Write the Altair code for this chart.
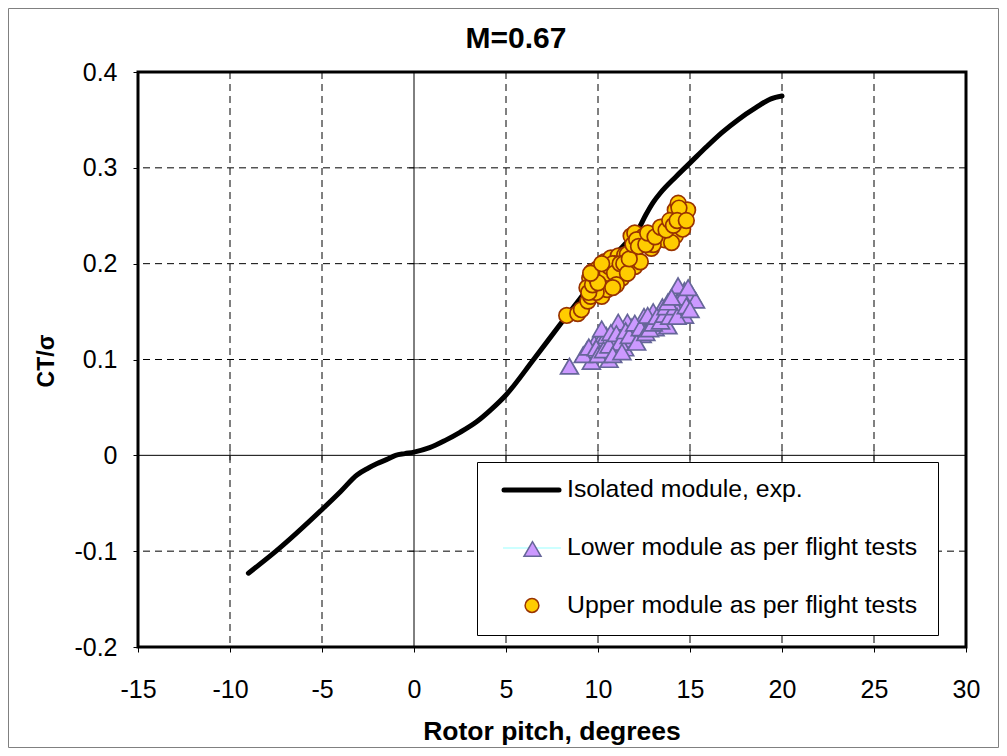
import altair as alt
import pandas as pd

# ---------------- data ----------------
curve_pitch = [-9, -7.5, -5, -4, -3.1, -2.5, -2, -1.5, -1, -0.5, 0, 0.85, 1.7, 2.5, 3.4,
               4.2, 5, 6.5, 8, 9.25, 10.4, 11.4, 12.2, 12.6, 13.0, 13.4, 14.25, 15.1,
               15.9, 16.75, 17.6, 18.6, 19.4, 20]
curve_ct = [-0.123, -0.1, -0.0565, -0.038, -0.0205, -0.0135, -0.0086, -0.0045, 0.0,
            0.0018, 0.0034, 0.008, 0.0156, 0.024, 0.035, 0.048, 0.063, 0.1, 0.138, 0.169,
            0.199, 0.219, 0.236, 0.251, 0.264, 0.274, 0.291, 0.307, 0.322, 0.337, 0.350,
            0.363, 0.372, 0.375]

lower_pitch = [8.45, 9.64, 10.6, 9.4, 9.8, 10.2, 10.45, 10.9, 11.3, 11.45, 11.9, 12.2,
               11.8, 12.5, 12.4, 12.9, 13.1, 13.3, 13.5, 13.6, 14.0, 14.1, 14.45, 14.7,
               14.35, 15.1, 15.3, 14.7, 14.5, 13.8, 12.5, 11.6, 11.1, 10.2, 13.0, 13.9,
               9.2, 9.5, 9.9, 10.0, 10.3, 10.6, 10.7, 11.0, 11.2, 11.5, 11.7, 12.0, 12.1,
               12.3, 12.6, 12.7, 12.8, 13.0, 13.2, 13.4, 13.6, 13.7, 13.9, 14.2, 14.3,
               14.6, 14.8, 14.9, 15.0, 13.8, 14.0, 10.8, 11.3]
lower_ct = [0.093, 0.098, 0.100, 0.110, 0.117, 0.122, 0.125, 0.119, 0.129, 0.112, 0.121,
            0.129, 0.134, 0.136, 0.126, 0.141, 0.133, 0.146, 0.155, 0.138, 0.150, 0.160,
            0.165, 0.172, 0.177, 0.168, 0.162, 0.146, 0.155, 0.135, 0.145, 0.139, 0.139,
            0.132, 0.150, 0.160,
            0.105, 0.113, 0.112, 0.105, 0.110, 0.115, 0.128, 0.127, 0.118, 0.130, 0.125,
            0.138, 0.118, 0.133, 0.128, 0.146, 0.132, 0.138, 0.145, 0.140, 0.147, 0.155,
            0.145, 0.155, 0.145, 0.165, 0.156, 0.175, 0.152, 0.160, 0.165, 0.105, 0.108]

upper_pitch = [8.3, 8.9, 9.1, 9.45, 9.6, 9.55, 9.7, 9.8, 10.0, 10.1, 10.2, 10.36, 10.5,
               10.7, 10.7, 11.1, 11.1, 11.3, 11.45, 11.5, 11.8, 12.0, 12.0, 12.0, 12.3,
               12.3, 12.5, 12.9, 12.9, 13.3, 13.6, 13.8, 14.2, 14.2, 14.36, 14.5, 14.6,
               14.87, 10.4, 10.9, 11.6, 9.9, 13.0, 14.0,
               9.4, 9.5, 9.7, 9.9, 10.1, 10.3, 10.5, 10.6, 10.8, 10.9, 11.2, 11.4, 11.6,
               11.7, 11.9, 12.1, 12.2, 12.6, 12.7, 13.1, 13.4, 13.7, 13.9, 14.1, 14.4,
               14.3, 14.8, 10.0, 9.6, 10.2, 11.0, 10.8]
upper_ct = [0.146, 0.148, 0.152, 0.161, 0.166, 0.185, 0.192, 0.180, 0.195, 0.176, 0.166,
            0.202, 0.173, 0.183, 0.206, 0.194, 0.208, 0.185, 0.209, 0.195, 0.229, 0.232,
            0.213, 0.197, 0.220, 0.202, 0.229, 0.225, 0.216, 0.232, 0.225, 0.241, 0.256,
            0.229, 0.263, 0.249, 0.236, 0.256, 0.188, 0.200, 0.210, 0.170, 0.220, 0.222,
            0.175, 0.170, 0.178, 0.185, 0.190, 0.185, 0.190, 0.197, 0.200, 0.190, 0.200,
            0.200, 0.190, 0.205, 0.220, 0.225, 0.218, 0.220, 0.232, 0.228, 0.238, 0.235,
            0.245, 0.240, 0.258, 0.245, 0.245, 0.180, 0.190, 0.200, 0.178, 0.175]

x_ticks = [-15, -10, -5, 0, 5, 10, 15, 20, 25, 30]
y_ticks = [-0.2, -0.1, 0, 0.1, 0.2, 0.3, 0.4]
x_grid = [-10, -5, 5, 10, 15, 20, 25]
y_grid = [-0.1, 0.1, 0.2, 0.3]

title_text = "M=0.67"
x_title = "Rotor pitch, degrees"
y_title = "CT/σ"
legend_labels = ["Isolated module, exp.", "Lower module as per flight tests",
                 "Upper module as per flight tests"]

FONT = "Liberation Sans"
W, H = 828, 575

xs = alt.Scale(domain=[-15, 30], nice=False, zero=False)
ys = alt.Scale(domain=[-0.2, 0.4], nice=False, zero=False)
xax = alt.Axis(values=x_ticks, title=None, grid=False, domain=False,
               labelExpr="toString(datum.value)", labelFontSize=25, labelFont=FONT,
               labelColor="black", tickColor="black", tickSize=5, labelPadding=25,
               labelFlush=False, labelOverlap=False)
yax = alt.Axis(values=y_ticks, title=None, grid=False, domain=False,
               labelExpr="toString(round(datum.value*10)/10)", labelFontSize=25,
               labelFont=FONT, labelColor="black", tickColor="black", tickSize=5,
               labelPadding=16, labelFlush=False, labelOverlap=False)

curve_df = pd.DataFrame({"pitch": curve_pitch, "ct": curve_ct})
lower_df = pd.DataFrame({"pitch": lower_pitch, "ct": lower_ct})
upper_df = pd.DataFrame({"pitch": upper_pitch, "ct": upper_ct})
gx_df = pd.DataFrame({"pitch": x_grid})
gy_df = pd.DataFrame({"ct": y_grid})
zero_df = pd.DataFrame({"pitch": [0], "ct": [0]})
one = pd.DataFrame({"a": [0]})

X = lambda f="pitch": alt.X(f + ":Q", scale=xs, axis=xax)
Y = lambda f="ct": alt.Y(f + ":Q", scale=ys, axis=yax)

grid_v = alt.Chart(gx_df).mark_rule(color="black", strokeWidth=1, strokeDash=[7, 5]).encode(x=X())
grid_h = alt.Chart(gy_df).mark_rule(color="black", strokeWidth=1, strokeDash=[7, 5]).encode(y=Y())
zero_v = alt.Chart(zero_df).mark_rule(color="black", strokeWidth=1).encode(x=X())
zero_h = alt.Chart(zero_df).mark_rule(color="black", strokeWidth=1).encode(y=Y())

# cross ticks on the zero lines
ticks_on_y0 = alt.Chart(pd.DataFrame({"pitch": x_grid, "ct": [0] * len(x_grid)})).mark_tick(
    orient="vertical", size=10, thickness=1, color="black").encode(x=X(), y=Y())
ticks_on_x0 = alt.Chart(pd.DataFrame({"pitch": [0] * len(y_grid), "ct": y_grid})).mark_tick(
    orient="horizontal", size=10, thickness=1, color="black").encode(x=X(), y=Y())

curve = alt.Chart(curve_df).mark_line(color="black", strokeWidth=5, strokeCap="round",
                                      strokeJoin="round", interpolate="monotone").encode(
    x=X(), y=Y(), order="pitch:Q")
lower = alt.Chart(lower_df).mark_point(shape="triangle-up", filled=True, size=320,
                                       fill="#CC99FF", stroke="#666699", strokeWidth=1.7,
                                       opacity=1).encode(x=X(), y=Y())
upper = alt.Chart(upper_df).mark_point(shape="circle", filled=True, size=245,
                                       fill="#FFCC00", stroke="#993300", strokeWidth=1.7,
                                       opacity=1).encode(x=X(), y=Y())

# ---------------- legend (drawn by hand) ----------------
leg_box = alt.Chart(one).mark_rect(fill="white", stroke="black", strokeWidth=1).encode(
    x=alt.value(339.5), x2=alt.value(800.5), y=alt.value(390.5), y2=alt.value(563.5))
leg_line = alt.Chart(one).mark_rule(color="black", strokeWidth=5, strokeCap="round").encode(
    x=alt.value(366), x2=alt.value(421), y=alt.value(418))
leg_cyan = alt.Chart(one).mark_rule(color="#CCFFFF", strokeWidth=2).encode(
    x=alt.value(365), x2=alt.value(423), y=alt.value(476))
leg_tri = alt.Chart(one).mark_point(shape="triangle-up", filled=True, size=290, fill="#CC99FF",
                                    stroke="#666699", strokeWidth=1.5, opacity=1).encode(
    x=alt.value(394.5), y=alt.value(477))
leg_circ = alt.Chart(one).mark_point(shape="circle", filled=True, size=190, fill="#FFCC00",
                                     stroke="#993300", strokeWidth=1.5, opacity=1).encode(
    x=alt.value(394), y=alt.value(533.5))
leg_texts = [
    alt.Chart(one).mark_text(text=lab, font=FONT, fontSize=24.8, align="left",
                             baseline="middle", color="black").encode(
        x=alt.value(429), y=alt.value(yy))
    for lab, yy in zip(legend_labels, [418, 476, 534])
]

# ---------------- titles ----------------
title = alt.Chart(one).mark_text(text=title_text, font=FONT, fontSize=30, fontWeight="bold",
                                 align="center", baseline="alphabetic", color="black").encode(
    x=alt.value(378), y=alt.value(-24))
xt = alt.Chart(one).mark_text(text=x_title, font=FONT, fontSize=26.5, fontWeight="bold",
                              align="center", baseline="middle", color="black").encode(
    x=alt.value(414), y=alt.value(660))
yt = alt.Chart(one).mark_text(text=y_title, font=FONT, fontSize=23, fontWeight="bold",
                              align="center", baseline="middle", angle=270,
                              color="black").encode(x=alt.value(-91), y=alt.value(289))

border = alt.Chart(one).mark_rect(filled=False, stroke="#808080", strokeWidth=1).encode(
    x=alt.value(-129.5), x2=alt.value(860.5), y=alt.value(-63.5), y2=alt.value(675.5))

chart = alt.layer(
    grid_v, grid_h, zero_v, zero_h, ticks_on_y0, ticks_on_x0,
    curve, lower, upper,
    leg_box, leg_line, leg_cyan, leg_tri, leg_circ, *leg_texts,
    title, xt, yt, border,
).properties(
    width=W, height=H, autosize="none",
    padding={"left": 130, "top": 64, "right": 33, "bottom": 101},
    background="white",
).configure_view(stroke="black", strokeWidth=3)

chart.save("out.html", embed_options={"renderer": "svg", "actions": False})
